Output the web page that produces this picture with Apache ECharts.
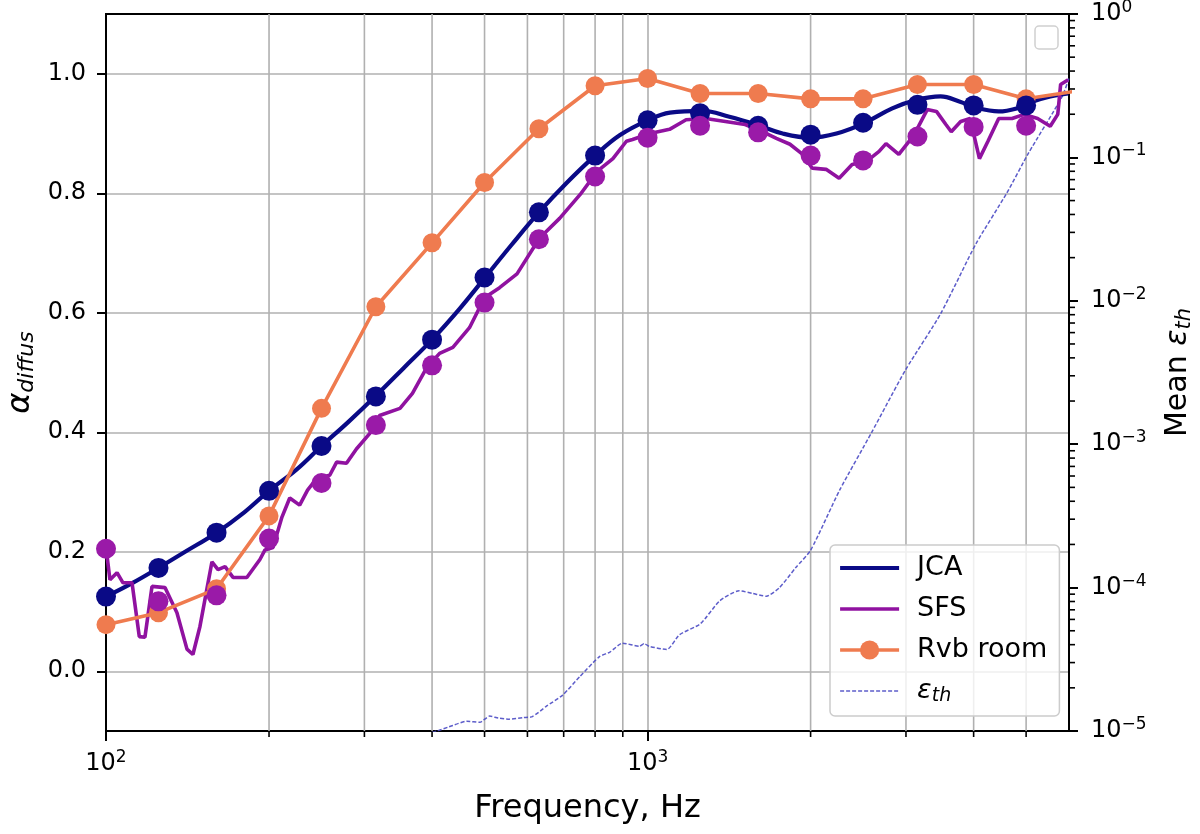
<!DOCTYPE html>
<html>
<head>
<meta charset="utf-8">
<script src="https://cdn.jsdelivr.net/npm/echarts@6/dist/echarts.min.js"></script>
<style>
html, body { margin: 0; padding: 0; background: #fff; }
#chart { width: 1200px; height: 834px; }
</style>
</head>
<body>
<div id="chart"></div>
<script>
// axis ranges
var X_MIN = 100, X_MAX = 6000;
var Y_MIN = -0.1, Y_MAX = 1.1;
var E_MIN = 1e-5, E_MAX = 1;

// third-octave band values (dots)
var bandFreqs = [100, 125, 160, 200, 250, 315, 400, 500, 630, 800, 1000, 1250, 1600, 2000, 2500, 3150, 4000, 5000];
var jcaBand = [0.125, 0.173, 0.232, 0.302, 0.377, 0.460, 0.555, 0.659, 0.768, 0.863, 0.922, 0.934, 0.913, 0.898, 0.918, 0.948, 0.947, 0.947];
var sfsBand = [0.205, 0.117, 0.127, 0.222, 0.315, 0.412, 0.512, 0.617, 0.723, 0.828, 0.893, 0.913, 0.902, 0.863, 0.855, 0.895, 0.911, 0.913];

// reverberation room measurement
var rvbFreqs = [100, 125, 160, 200, 250, 315, 400, 500, 630, 800, 1000, 1250, 1600, 2000, 2500, 3150, 4000, 5000, 6300];
var rvbValues = [0.078, 0.098, 0.138, 0.260, 0.440, 0.610, 0.717, 0.818, 0.908, 0.980, 0.992, 0.967, 0.967, 0.958, 0.958, 0.982, 0.982, 0.958, 0.972];

// JCA model, narrow band
var jcaFreqs = [100, 112, 125, 140, 160, 180, 200, 225, 250, 280, 315, 355, 400, 450, 500, 560, 630, 710, 800, 888,
  1000, 1100, 1264, 1416, 1587, 1776, 2000, 2233, 2507, 2830, 3130, 3475, 3775, 4040, 4450, 4800, 5127, 5540, 5980];
var jcaValues = [0.125, 0.148, 0.173, 0.200, 0.232, 0.266, 0.302, 0.338, 0.377, 0.417, 0.461, 0.508, 0.555, 0.607, 0.658, 0.713, 0.768, 0.818, 0.863, 0.897,
  0.922, 0.935, 0.938, 0.928, 0.915, 0.900, 0.893, 0.900, 0.917, 0.942, 0.956, 0.962, 0.953, 0.943, 0.937, 0.942, 0.953, 0.962, 0.967];

// SFS, narrow band
var sfsFreqs = [100, 101.7, 104.8, 107.5, 111.7, 115.2, 118, 121.6, 128.5, 135.2, 141.1, 144.7, 149.1, 156.9, 161, 165.9, 171.6, 182,
  192.4, 196.6, 203.4, 211.3, 218.4, 227.8, 235.6, 245, 258.9, 266.6, 278, 290, 307, 320, 349, 368, 391, 413, 437, 469, 500, 533,
  574, 632, 688, 751, 808, 863, 914, 938, 1010, 1098, 1178, 1280, 1392, 1514, 1630, 1729, 1832, 1934, 2014, 2136, 2258, 2386,
  2534, 2676, 2756, 2910, 3070, 3164, 3284, 3415, 3555, 3637, 3786, 3941, 4100, 4251, 4450, 4710, 4960, 5250, 5540, 5720, 5790, 5980];
var sfsValues = [0.207, 0.153, 0.165, 0.148, 0.148, 0.058, 0.057, 0.142, 0.140, 0.098, 0.037, 0.028, 0.075, 0.183, 0.170, 0.175, 0.157, 0.157,
  0.187, 0.203, 0.207, 0.258, 0.290, 0.278, 0.303, 0.323, 0.328, 0.350, 0.348, 0.372, 0.398, 0.428, 0.440, 0.465, 0.508, 0.532, 0.542, 0.575, 0.625, 0.642,
  0.665, 0.725, 0.758, 0.798, 0.837, 0.858, 0.887, 0.890, 0.900, 0.907, 0.923, 0.925, 0.920, 0.915, 0.903, 0.892, 0.882, 0.865, 0.842, 0.840, 0.825, 0.848,
  0.853, 0.870, 0.883, 0.865, 0.892, 0.912, 0.940, 0.937, 0.915, 0.903, 0.920, 0.925, 0.858, 0.887, 0.925, 0.925, 0.932, 0.925, 0.912, 0.932, 0.982, 0.990];

// mean epsilon_th (right log axis)
var epsFreqs = [400, 409, 430, 464, 490, 511, 530, 556, 590, 613, 649, 697, 750, 815, 852, 899, 966, 986, 1006, 1085,
  1146, 1252, 1360, 1476, 1563, 1657, 1752, 1878, 2000, 2264, 2590, 2995, 3475, 4040, 4600, 5050, 5820, 6000];
var epsValues = [9.8e-6, 1.0e-5, 1.07e-5, 1.17e-5, 1.15e-5, 1.27e-5, 1.23e-5, 1.21e-5, 1.24e-5, 1.26e-5, 1.48e-5, 1.78e-5, 2.4e-5, 3.3e-5, 3.55e-5, 4.1e-5, 3.9e-5, 4.07e-5, 3.9e-5, 3.7e-5,
  4.7e-5, 5.6e-5, 8.1e-5, 9.5e-5, 9.1e-5, 8.7e-5, 1.0e-4, 1.38e-4, 1.82e-4, 4.8e-4, 1.2e-3, 3.3e-3, 8.1e-3, 2.5e-2, 5.6e-2, 0.107, 0.263, 0.355];

// ticks
var yTicks = [0, 0.2, 0.4, 0.6, 0.8, 1.0];
var xMajorTicks = [100, 1000];
var xMinorTicks = [200, 300, 400, 500, 600, 700, 800, 900, 2000, 3000, 4000, 5000];
var epsMinorTicks = [];
for (var k = -5; k < 0; k++) {
  for (var m = 2; m <= 9; m++) epsMinorTicks.push(m * Math.pow(10, k));
}

var FONT = 'DejaVu Sans';
var GRID_COLOR = '#b0b0b0';
var TICK_COLOR = '#000';
var NO_MARK = { opacity: 0 };

function pairs(xs, ys) {
  return xs.map(function (x, i) { return [x, ys[i]]; });
}

function powLabel(v) {
  var e = Math.round(Math.log10(v));
  if (Math.abs(Math.log10(v) - e) > 1e-6) return '';
  return '{b|10}{s|' + (e < 0 ? '\u2212' + (-e) : e) + '}';
}

var powRich = {
  b: { fontFamily: FONT, fontSize: 24, color: '#000', lineHeight: 30 },
  s: { fontFamily: FONT, fontSize: 17, color: '#000', lineHeight: 16, verticalAlign: 'top' }
};

var chart = echarts.init(document.getElementById('chart'));
var option = {
  animation: false,
  backgroundColor: '#fff',
  grid: {
    left: 106, right: 131, top: 14, bottom: 103,
    show: true, borderColor: '#000', borderWidth: 2,
    outerBoundsMode: 'none'
  },
  legend: {
    data: [
      { name: 'JCA', itemStyle: NO_MARK, lineStyle: { width: 4.2 } },
      { name: 'SFS', itemStyle: NO_MARK, lineStyle: { width: 3.6 } },
      { name: 'Rvb room', lineStyle: { width: 3.6 } },
      { name: 'ε_th', itemStyle: NO_MARK, lineStyle: { width: 1.5 } }
    ],
    orient: 'vertical',
    left: 830, top: 545,
    padding: [8, 12, 10, 8],
    itemGap: 11,
    itemWidth: 59,
    itemHeight: 24,
    backgroundColor: 'rgba(255,255,255,0.8)',
    borderColor: '#cccccc',
    borderWidth: 1.5,
    borderRadius: 5,
    textStyle: {
      fontFamily: FONT, fontSize: 27, color: '#000', lineHeight: 30, padding: [0, 0, 0, 13],
      rich: {
        e: { fontFamily: FONT, fontSize: 27, fontStyle: 'italic', color: '#000', lineHeight: 30 },
        s: { fontFamily: FONT, fontSize: 19, fontStyle: 'italic', color: '#000', lineHeight: 14, verticalAlign: 'bottom' }
      }
    },
    formatter: function (name) {
      return name === 'ε_th' ? '{e|ε}{s|th}' : name;
    }
  },
  graphic: [{
    // empty legend of the twin axis
    type: 'rect',
    shape: { x: 1035, y: 26, width: 23, height: 23, r: 4 },
    style: { fill: 'rgba(255,255,255,0.8)', stroke: '#d0d0d0', lineWidth: 1.5 },
    z: 10
  }],
  xAxis: {
    type: 'log',
    logBase: 10,
    min: X_MIN,
    max: X_MAX,
    name: 'Frequency, Hz',
    nameLocation: 'middle',
    nameGap: 62,
    nameMoveOverlap: false,
    nameTextStyle: { fontFamily: FONT, fontSize: 32, color: '#000' },
    axisLine: { show: true, onZero: false, lineStyle: { color: '#000', width: 2 } },
    axisTick: { show: true, inside: false, length: 10, customValues: xMajorTicks, lineStyle: { color: TICK_COLOR, width: 2 } },
    axisLabel: { margin: 18, customValues: xMajorTicks, formatter: powLabel, rich: powRich },
    splitLine: { show: true, lineStyle: { color: GRID_COLOR, width: 1.6 } },
    minorTick: { show: false },
    minorSplitLine: { show: false }
  },
  yAxis: [{
    type: 'value',
    min: Y_MIN,
    max: Y_MAX,
    position: 'left',
    name: '{a|α}{s|diffus}',
    nameLocation: 'middle',
    nameRotate: 90,
    nameGap: 68,
    nameMoveOverlap: false,
    nameTextStyle: {
      rich: {
        a: { fontFamily: FONT, fontSize: 32, fontStyle: 'italic', color: '#000', lineHeight: 34 },
        s: { fontFamily: FONT, fontSize: 22, fontStyle: 'italic', color: '#000', lineHeight: 18, verticalAlign: 'bottom' }
      }
    },
    axisLine: { show: true, onZero: false, lineStyle: { color: '#000', width: 2 } },
    axisTick: { show: true, inside: false, length: 9, customValues: yTicks, lineStyle: { color: TICK_COLOR, width: 2 } },
    axisLabel: {
      margin: 20, customValues: yTicks, fontFamily: FONT, fontSize: 24, color: '#000',
      formatter: function (v) { return v.toFixed(1); }
    },
    splitLine: { show: true, lineStyle: { color: GRID_COLOR, width: 1.6 } }
  }, {
    type: 'log',
    logBase: 10,
    min: E_MIN,
    max: E_MAX,
    position: 'right',
    name: '{m|Mean }{e|ε}{s|th}',
    nameLocation: 'middle',
    nameRotate: 90,
    nameGap: 92,
    nameMoveOverlap: false,
    nameTextStyle: {
      rich: {
        m: { fontFamily: FONT, fontSize: 30, color: '#000', lineHeight: 34 },
        e: { fontFamily: FONT, fontSize: 30, fontStyle: 'italic', color: '#000', lineHeight: 34 },
        s: { fontFamily: FONT, fontSize: 21, fontStyle: 'italic', color: '#000', lineHeight: 16, verticalAlign: 'bottom' }
      }
    },
    axisLine: { show: true, onZero: false, lineStyle: { color: '#000', width: 2 } },
    axisTick: { show: true, inside: false, length: 9, lineStyle: { color: TICK_COLOR, width: 2 } },
    axisLabel: { margin: 22, formatter: powLabel, rich: powRich },
    splitLine: { show: false }
  }],
  series: [
    {
      // minor frequency grid lines and ticks
      type: 'custom',
      silent: true,
      z: 1,
      clip: false,
      xAxisIndex: 0,
      yAxisIndex: 0,
      data: xMinorTicks.map(function (f) { return [f, 0]; }),
      renderItem: function (params, api) {
        var top = api.coord([api.value(0), Y_MAX]);
        var bot = api.coord([api.value(0), Y_MIN]);
        return {
          type: 'group',
          children: [
            { type: 'line', shape: { x1: top[0], y1: top[1], x2: bot[0], y2: bot[1] }, style: { stroke: GRID_COLOR, lineWidth: 1.6 } },
            { type: 'line', shape: { x1: bot[0], y1: bot[1], x2: bot[0], y2: bot[1] + 6 }, style: { stroke: TICK_COLOR, lineWidth: 1.6 } }
          ]
        };
      }
    },
    {
      // minor ticks of the right log axis
      type: 'custom',
      silent: true,
      z: 1,
      clip: false,
      xAxisIndex: 0,
      yAxisIndex: 1,
      data: epsMinorTicks.map(function (v) { return [X_MAX, v]; }),
      renderItem: function (params, api) {
        var p = api.coord([X_MAX, api.value(1)]);
        return { type: 'line', shape: { x1: p[0], y1: p[1], x2: p[0] + 6, y2: p[1] }, style: { stroke: TICK_COLOR, lineWidth: 1.6 } };
      }
    },
    {
      name: 'ε_th',
      type: 'line',
      yAxisIndex: 1,
      data: pairs(epsFreqs, epsValues),
      symbol: 'none',
      smooth: 0.2,
      lineStyle: { color: '#4b4bc4', width: 1.5, type: [4, 2], opacity: 0.9 },
      itemStyle: { color: '#4b4bc4' },
      z: 2
    },
    {
      name: 'JCA',
      type: 'line',
      data: pairs(jcaFreqs, jcaValues),
      symbol: 'none',
      smooth: 0.4,
      lineStyle: { color: '#0a0a86', width: 4.2 },
      itemStyle: { color: '#0a0a86' },
      z: 3
    },
    {
      name: 'SFS',
      type: 'line',
      data: pairs(sfsFreqs, sfsValues),
      symbol: 'none',
      lineStyle: { color: '#9012a0', width: 3.6 },
      itemStyle: { color: '#9012a0' },
      z: 3
    },
    {
      name: 'Rvb room',
      type: 'line',
      data: pairs(rvbFreqs, rvbValues),
      symbol: 'circle',
      symbolSize: 19,
      lineStyle: { color: '#ef7b4f', width: 3.6 },
      itemStyle: { color: '#ef7b4f' },
      z: 4
    },
    {
      name: 'JCA bands',
      type: 'scatter',
      data: pairs(bandFreqs, jcaBand),
      symbol: 'circle',
      symbolSize: 20,
      itemStyle: { color: '#0a0a86', opacity: 1 },
      z: 5
    },
    {
      name: 'SFS bands',
      type: 'scatter',
      data: pairs(bandFreqs, sfsBand),
      symbol: 'circle',
      symbolSize: 20,
      itemStyle: { color: '#9a1aa8', opacity: 1 },
      z: 5
    }
  ]
};
chart.setOption(option);
</script>
</body>
</html>
